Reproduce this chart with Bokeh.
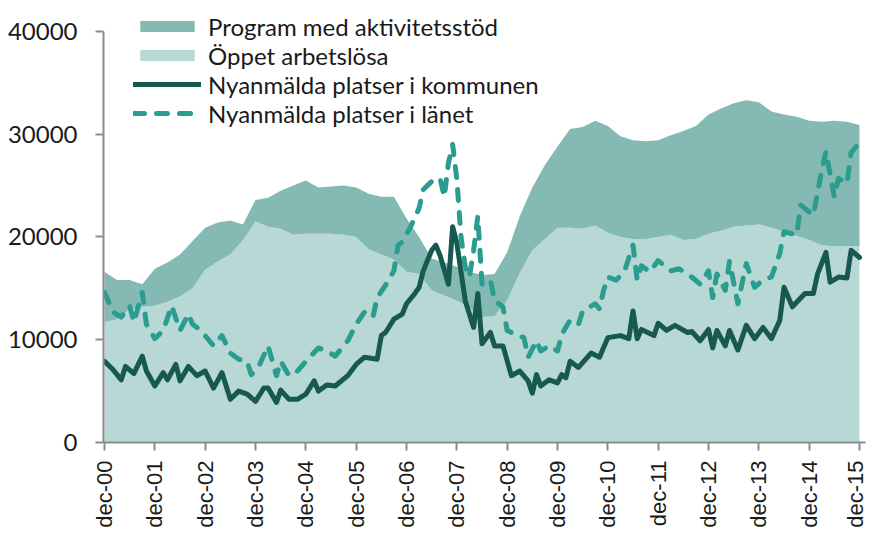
from bokeh.plotting import figure
from bokeh.models import ColumnDataSource, Range1d, FixedTicker, Legend, LegendItem
from bokeh.embed import file_html
from bokeh.resources import INLINE
import math

# ---- data (months since dec-2000) ----
area_month = [0, 3, 6, 9, 12, 15, 18, 21, 24, 27, 30, 33, 36, 39, 42, 45, 48, 51, 54, 57,
              60, 63, 66, 69, 72, 75, 78, 81, 84, 87, 90, 93, 96, 99, 102, 105, 108, 111, 114, 117,
              120, 123, 126, 129, 132, 135, 138, 141, 144, 147, 150, 153, 156, 159, 162, 165, 168, 171, 174, 177, 180]
oppet = [11700, 12000, 13000, 13200, 13300, 13700, 14200, 15000, 16800, 17600, 18300, 19700, 21500, 21000, 20800, 20200, 20300, 20300, 20300, 20200,
         20000, 18800, 18300, 17800, 16600, 16400, 14800, 14300, 13800, 13100, 12200, 12300, 13800, 16500, 18700, 19800, 20900, 20900, 20800, 21100,
         20400, 20000, 19800, 19800, 20000, 20200, 19700, 19800, 20300, 20600, 21000, 21100, 21200, 20900, 20500, 20100, 19700, 19200, 19100, 19100, 19100]
program = [4900, 3800, 2800, 2200, 3600, 3800, 4100, 4600, 4100, 3800, 3300, 1500, 2100, 2800, 3700, 4800, 5200, 4500, 4600, 4800,
           4800, 5400, 5600, 6100, 5200, 3600, 3100, 3200, 3300, 3500, 4100, 4100, 4700, 5500, 6100, 7200, 7900, 9600, 9900, 10200,
           10400, 9800, 9600, 9500, 9400, 9700, 10600, 11000, 11600, 11900, 12000, 12200, 11900, 11300, 11400, 11600, 11600, 12000, 12200, 12100, 11800]

kommun_month = [0, 2, 4, 5, 7, 9, 10, 12, 14, 15, 17, 18, 20, 22, 24, 26, 28, 30, 32, 34,
                36, 38, 39, 41, 42, 44, 46, 48, 50, 51, 53, 55, 58, 60, 62, 65, 66, 67, 69, 71,
                72, 74, 75, 76, 78, 79, 80, 82, 83, 84, 86, 88, 89, 90, 92, 93, 95, 97, 99, 101,
                102, 103, 104, 106, 108, 109, 110, 111, 113, 116, 118, 120, 123, 125, 126, 127, 128, 131, 132, 134,
                136, 139, 140, 142, 144, 145, 146, 148, 149, 151, 153, 155, 157, 159, 161, 162, 164, 167, 169, 170,
                172, 173, 175, 177, 178, 180]
kommun = [7900, 7100, 6100, 7400, 6700, 8400, 6950, 5500, 6800, 6100, 7600, 6000, 7400, 6500, 6950, 5300, 6800, 4200, 5000, 4700,
          4000, 5300, 5300, 3900, 5100, 4200, 4200, 4700, 6000, 5000, 5600, 5500, 6500, 7600, 8300, 8100, 10400, 10700, 12000, 12500,
          13500, 14500, 15100, 16700, 18700, 19200, 18200, 15400, 21000, 19400, 13800, 11200, 14500, 9600, 10700, 9400, 9400, 6500, 6950, 6000,
          4800, 6600, 5500, 6100, 5800, 6600, 6300, 7900, 7300, 8700, 8300, 10200, 10400, 10100, 12800, 10100, 11000, 10400, 11600, 10900,
          11400, 10700, 10800, 9900, 11000, 9200, 10900, 9400, 10900, 9000, 11400, 10100, 11200, 10100, 11900, 15100, 13200, 14500, 14500, 16400,
          18500, 15600, 16100, 16000, 18700, 18000]

lan_month = [0, 2, 4, 6, 7, 9, 10, 12, 14, 16, 18, 20, 21, 23, 25, 26, 28, 30, 32, 34,
             35, 37, 39, 41, 42, 44, 46, 48, 51, 53, 55, 58, 60, 62, 64, 65, 67, 69, 70, 71,
             73, 75, 76, 78, 80, 81, 82, 83, 84, 85, 86, 87, 88, 89, 90, 92, 93, 95, 96, 98,
             100, 101, 103, 104, 106, 108, 109, 111, 113, 114, 117, 118, 119, 120, 122, 124, 126, 127, 128, 130,
             132, 135, 137, 140, 142, 144, 145, 146, 148, 149, 151, 153, 155, 157, 159, 161, 162, 165, 166, 169,
             171, 172, 174, 175, 177, 178, 180]
lan = [14600, 12700, 12200, 13300, 11700, 14600, 11500, 10100, 10900, 13300, 10900, 12500, 11500, 10900, 9900, 9400, 10400, 8700, 8100, 7900,
       6600, 7600, 9400, 6500, 7900, 6500, 6950, 7900, 9200, 8900, 8400, 9900, 11500, 12700, 12200, 14100, 15300, 16700, 19200, 19500,
       21000, 22800, 24600, 25400, 25700, 23900, 27200, 29000, 25600, 20000, 17100, 16100, 18700, 22000, 15400, 15800, 13800, 13200, 10900, 10500,
       10200, 8300, 9900, 8900, 9400, 8900, 10500, 11900, 11500, 12800, 13500, 13000, 14800, 16100, 15800, 16700, 19200, 15800, 17200, 16600,
       17700, 16700, 16900, 16100, 15400, 16700, 14100, 16400, 14800, 17600, 13500, 17400, 15100, 15800, 16100, 18400, 20500, 20200, 23100, 22100,
       26500, 28300, 23900, 25700, 25200, 28200, 29200]

x_ticks = [0, 12, 24, 36, 48, 60, 72, 84, 96, 108, 120, 132, 144, 156, 168, 180]
x_labels = ["dec-00", "dec-01", "dec-02", "dec-03", "dec-04", "dec-05", "dec-06", "dec-07",
            "dec-08", "dec-09", "dec-10", "dec-11", "dec-12", "dec-13", "dec-14", "dec-15"]
y_ticks = [0, 10000, 20000, 30000, 40000]
y_labels = ["0", "10000", "20000", "30000", "40000"]

series_names = ["Program med aktivitetsstöd", "Öppet arbetslösa",
                "Nyanmälda platser i kommunen", "Nyanmälda platser i länet"]

# ---- styling ----
C_PROG = "#84bab3"
C_OPP = "#b7d8d5"
C_KOM = "#175850"
C_LAN = "#2a9d90"
AXIS_C = "#8c8c8c"

p = figure(width=867, height=532, output_backend="svg", toolbar_location=None,
           x_range=Range1d(-0.24, 181.43), y_range=Range1d(0, 42320),
           min_border_left=103, min_border_right=2, min_border_top=7, min_border_bottom=90)
p.outline_line_color = None
p.xgrid.visible = False
p.ygrid.visible = False
p.background_fill_color = "white"

area_src = ColumnDataSource(dict(month=area_month, oppet=oppet, program=program))
areas = p.varea_stack(["oppet", "program"], x="month", source=area_src, color=[C_OPP, C_PROG])

kom_src = ColumnDataSource(dict(month=kommun_month, v=kommun))
lan_src = ColumnDataSource(dict(month=lan_month, v=lan))
r_lan = p.line("month", "v", source=lan_src, line_color=C_LAN, line_width=5,
               line_dash="11 12", line_cap="round", line_join="round")
r_kom = p.line("month", "v", source=kom_src, line_color=C_KOM, line_width=5,
               line_cap="round", line_join="round")

# axes
xa = p.xaxis[0]
xa.ticker = FixedTicker(ticks=x_ticks)
xa.major_label_overrides = {t: l for t, l in zip(x_ticks, x_labels)}
xa.major_label_orientation = math.pi / 2
xa.major_label_text_font = "Liberation Sans"
xa.major_label_text_font_size = "22px"
xa.major_label_text_color = "#1a1a1a"
xa.major_label_standoff = 10
xa.axis_line_color = AXIS_C
xa.axis_line_width = 2
xa.major_tick_line_color = AXIS_C
xa.major_tick_line_width = 2
xa.major_tick_out = 8
xa.major_tick_in = 0
xa.minor_tick_line_color = None

ya = p.yaxis[0]
ya.ticker = FixedTicker(ticks=y_ticks)
ya.major_label_overrides = {t: l for t, l in zip(y_ticks, y_labels)}
ya.bounds = (0, 40000)
ya.major_label_text_font = "Lato"
ya.major_label_text_font_size = "24px"
ya.major_label_text_color = "#1a1a1a"
ya.major_label_standoff = 18
ya.axis_line_color = AXIS_C
ya.axis_line_width = 2
ya.major_tick_line_color = AXIS_C
ya.major_tick_line_width = 2
ya.major_tick_out = 8
ya.major_tick_in = 0
ya.minor_tick_line_color = None

# one legend per row, so the row spacing can follow the reference
legend_rows = [(series_names[0], areas[1], 401.5),
               (series_names[1], areas[0], 372.5),
               (series_names[2], r_kom, 343.5),
               (series_names[3], r_lan, 314.5)]
for label, rend, vy in legend_rows:
    lg = Legend(items=[LegendItem(label=label, renderers=[rend])], location=(30, vy))
    lg.glyph_width = 68
    lg.glyph_height = 14
    lg.label_height = 28
    lg.label_standoff = 7
    lg.spacing = 0
    lg.padding = 0
    lg.margin = 0
    lg.border_line_color = None
    lg.background_fill_alpha = 0
    lg.label_text_font = "Lato"
    lg.label_text_font_size = "24px"
    lg.label_text_color = "#1a1a1a"
    p.add_layout(lg, "center")

open("out.html", "w").write(file_html(p, INLINE))
